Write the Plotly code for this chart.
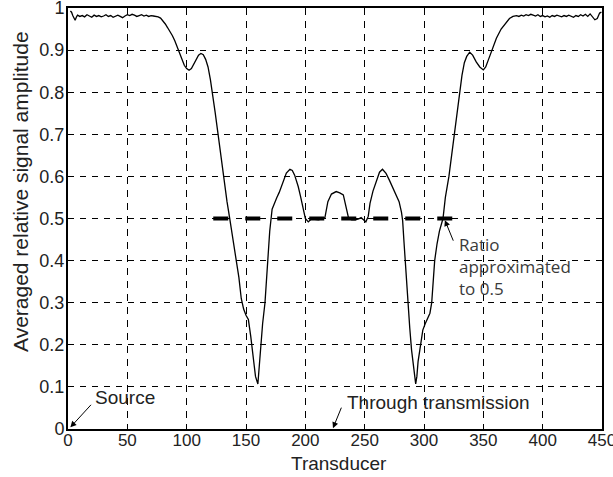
import plotly.graph_objects as go

# ---- data ----
transducer = [2, 3, 4, 5, 6, 7, 8, 10, 12, 14, 16, 18, 20, 22, 24, 26, 28, 30, 32, 34, 36, 38, 40,
              42, 44, 46, 48, 50, 52, 54, 56, 58, 60, 62, 64, 66, 68, 70, 72, 74, 76,
              78, 80, 82, 84, 86, 88, 90, 92, 94, 96, 98, 100, 102, 104, 106, 108, 110, 112,
              114, 116, 118, 120, 122, 124, 126, 128, 130, 132, 134, 136, 138, 140, 142, 144,
              146, 148, 150, 152, 154, 156, 158, 160, 162, 164, 166, 168, 170, 172, 174, 176,
              178, 181, 184, 187, 189, 191, 194, 196, 198, 200, 202.5, 205, 208, 211, 214,
              216.5, 219, 222, 226, 229, 232, 234.5, 236.5, 239, 242, 245, 247, 249, 251,
              253, 254.5, 257, 260, 262.5, 265, 268, 271, 274, 277, 279, 281, 282, 283,
              284.5, 286.5, 288, 289.5, 291, 293, 294, 295, 296.5, 298, 299, 301, 303, 305,
              306.5, 308, 309, 311, 313, 316, 318, 321, 324, 325.5, 328, 330, 332, 334, 336,
              338.5, 341, 344, 347, 350, 352, 354, 357, 361, 365, 369, 372, 375,
              378, 380, 382, 384, 386, 388, 390, 392, 394, 396, 398, 400, 402, 404, 406, 408,
              410, 412, 414, 416, 418, 420, 422, 424, 426, 428, 430, 432, 434, 436, 438, 440,
              442, 444, 446, 448, 449.5]
amplitude = [0.993, 0.990, 0.982, 0.975, 0.971, 0.978, 0.983, 0.980, 0.982, 0.979, 0.984, 0.981,
             0.978, 0.983, 0.980, 0.982, 0.979, 0.981, 0.984, 0.980, 0.982, 0.978, 0.981,
             0.983, 0.980, 0.977, 0.981, 0.984, 0.982, 0.985, 0.983, 0.980, 0.982, 0.984,
             0.981, 0.983, 0.980, 0.982, 0.981, 0.980, 0.979,
             0.976, 0.970, 0.962, 0.953, 0.944, 0.934, 0.922, 0.908, 0.893, 0.876, 0.864,
             0.856, 0.852, 0.856, 0.866, 0.879, 0.888, 0.892,
             0.889, 0.878, 0.860, 0.830, 0.795, 0.752, 0.710, 0.665, 0.625, 0.580, 0.540,
             0.505, 0.470, 0.435, 0.400, 0.360,
             0.310, 0.285, 0.270, 0.260, 0.220, 0.170, 0.125, 0.107, 0.180, 0.250, 0.300,
             0.385, 0.470, 0.522, 0.537, 0.550,
             0.562, 0.587, 0.608, 0.617, 0.614, 0.603, 0.576, 0.552, 0.528, 0.500, 0.492,
             0.499, 0.498, 0.497, 0.499,
             0.502, 0.540, 0.558, 0.564, 0.561, 0.556, 0.528, 0.500, 0.497, 0.497, 0.499,
             0.502, 0.497, 0.492,
             0.505, 0.536, 0.565, 0.591, 0.610, 0.617, 0.607, 0.590, 0.570, 0.552, 0.540,
             0.515, 0.495, 0.450,
             0.380, 0.300, 0.240, 0.188, 0.150, 0.107, 0.125, 0.160, 0.188, 0.220, 0.235,
             0.250, 0.262, 0.275,
             0.300, 0.360, 0.400, 0.440, 0.470, 0.500, 0.550, 0.600, 0.663, 0.700, 0.760,
             0.800, 0.840, 0.870, 0.885,
             0.895, 0.888, 0.872, 0.860, 0.853, 0.860, 0.875, 0.900, 0.928, 0.950, 0.966,
             0.975, 0.980,
             0.982, 0.980, 0.983, 0.981, 0.984, 0.982, 0.985, 0.983, 0.981, 0.984, 0.980,
             0.982, 0.979, 0.981, 0.978, 0.982,
             0.980, 0.983, 0.981, 0.979, 0.982, 0.980, 0.983, 0.981, 0.978, 0.982, 0.980,
             0.984, 0.981, 0.985, 0.980, 0.986,
             0.979, 0.972, 0.975, 0.988, 0.990]

ratio_x = [122.4, 324.1]
ratio_y = [0.5, 0.5]

x_ticks = [0, 50, 100, 150, 200, 250, 300, 350, 400, 450]
y_ticks = [0, 0.1, 0.2, 0.3, 0.4, 0.5, 0.6, 0.7, 0.8, 0.9, 1]
y_tick_text = ["0", "0.1", "0.2", "0.3", "0.4", "0.5", "0.6", "0.7", "0.8", "0.9", "1"]

FONT = "Liberation Sans, Arial, Helvetica, sans-serif"

fig = go.Figure()
fig.add_trace(go.Scatter(x=ratio_x, y=ratio_y, mode="lines",
                         line=dict(color="black", width=4, dash="15px,17px"),
                         hoverinfo="skip", showlegend=False))
fig.add_trace(go.Scatter(x=transducer, y=amplitude, mode="lines",
                         line=dict(color="black", width=1.3),
                         showlegend=False))

annotations = [
    # axis titles
    dict(text="Transducer", xref="paper", yref="paper", x=0.5075, y=-0.083,
         xanchor="center", yanchor="middle", showarrow=False,
         font=dict(family=FONT, size=19, color="#222")),
    dict(text="Averaged relative signal amplitude", xref="paper", yref="paper",
         x=-0.088, y=0.563, xanchor="center", yanchor="middle", textangle=-90,
         showarrow=False, font=dict(family=FONT, size=21, color="#222")),
    # Source
    dict(text="", x=2, y=0.004, xref="x", yref="y", ax=22, ay=-24,
         showarrow=True, arrowhead=2, arrowsize=1.2, arrowwidth=1, arrowcolor="black"),
    dict(text="Source", x=21, y=0.074, xref="x", yref="y", xanchor="left",
         yanchor="middle", showarrow=False, font=dict(family=FONT, size=19, color="#222")),
    # Through transmission
    dict(text="", x=223.3, y=0.002, xref="x", yref="y", ax=9, ay=-22,
         showarrow=True, arrowhead=2, arrowsize=1.2, arrowwidth=1, arrowcolor="black"),
    dict(text="Through transmission", x=233.4, y=0.062, xref="x", yref="y",
         xanchor="left", yanchor="middle", showarrow=False,
         font=dict(family=FONT, size=19, color="#222")),
    # Ratio
    dict(text="", x=317.6, y=0.496, xref="x", yref="y", ax=9, ay=22,
         showarrow=True, arrowhead=2, arrowsize=1.2, arrowwidth=1, arrowcolor="black"),
    dict(text="Ratio<br>approximated<br>to 0.5", x=327.7, y=0.385, xref="x", yref="y",
         xanchor="left", yanchor="middle", align="left", showarrow=False,
         font=dict(family="Open Sans, Noto Sans, sans-serif", size=17, color="#3a3a3a")),
]

fig.update_layout(
    width=613, height=477,
    margin=dict(l=68, r=11, t=8, b=48, autoexpand=False),
    paper_bgcolor="white", plot_bgcolor="white",
    showlegend=False,
    annotations=annotations,
    font=dict(family=FONT, size=18, color="#222"),
)
fig.update_xaxes(range=[0, 450], tickvals=x_ticks, ticktext=[str(v) for v in x_ticks],
                 automargin=False, ticklabeloverflow="allow", ticklabelstandoff=-5,
                 showline=True, linecolor="black", linewidth=2, mirror="ticks",
                 ticks="inside", ticklen=5, tickcolor="black",
                 showgrid=True, gridcolor="black", gridwidth=1, griddash="7px,6px",
                 zeroline=False, tickfont=dict(family=FONT, size=17, color="#222"))
fig.update_yaxes(range=[0, 1], tickvals=y_ticks, ticktext=y_tick_text,
                 automargin=False, ticklabeloverflow="allow", ticklabelstandoff=-2,
                 showline=True, linecolor="black", linewidth=2, mirror="ticks",
                 ticks="inside", ticklen=5, tickcolor="black",
                 showgrid=True, gridcolor="black", gridwidth=1, griddash="6px,6px",
                 zeroline=False, tickfont=dict(family=FONT, size=18, color="#222"))

fig.write_html("out.html", config={"displayModeBar": False},
               post_script="document.body.style.margin='0';document.body.style.overflow='hidden';")
